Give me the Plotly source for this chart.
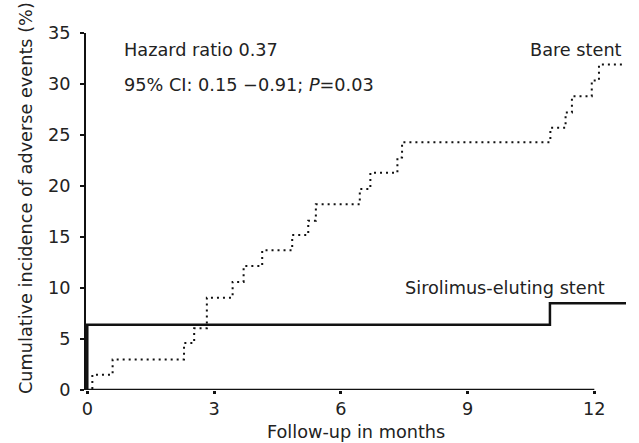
import plotly.graph_objects as go

# Data
bare_months = [0, 0.12, 0.6, 2.29, 2.53, 2.83, 3.44, 3.7, 4.14, 4.85, 5.23, 5.41,
               6.45, 6.7, 7.34, 7.45, 10.96, 11.32, 11.47, 11.94, 12.11, 12.72]
bare_pct = [0, 1.5, 3.0, 4.6, 6.05, 9.05, 10.6, 12.15, 13.7, 15.2, 16.6, 18.2,
            19.7, 21.3, 22.8, 24.3, 25.7, 27.2, 28.8, 30.35, 31.9, 31.9]

ses_months = [0, 0, 10.95, 12.75]
ses_pct = [0, 6.4, 8.5, 8.5]

x_ticks = [0, 3, 6, 9, 12]
y_ticks = [0, 5, 10, 15, 20, 25, 30, 35]

FONT = "DejaVu Sans, Liberation Sans, Arial, sans-serif"
TXT = "#222222"
FS = 17.7

fig = go.Figure()
fig.add_trace(go.Scatter(x=bare_months, y=bare_pct, mode="lines",
                         line=dict(shape="hv", color="#111111", width=2, dash="2px,4px"),
                         cliponaxis=False, showlegend=False))
fig.add_trace(go.Scatter(x=ses_months, y=ses_pct, mode="lines",
                         line=dict(shape="hv", color="#111111", width=2.5),
                         cliponaxis=False, showlegend=False))

# x axis line only spans 0..12
fig.add_shape(type="line", xref="x", yref="y", x0=0, x1=12, y0=0, y1=0,
              line=dict(color="#111111", width=2.5))

def ann(x, y, text, xanchor="left", angle=0):
    fig.add_annotation(x=x, y=y, xref="paper", yref="paper", xanchor=xanchor, yanchor="middle",
                       text=text, showarrow=False, textangle=angle,
                       font=dict(family=FONT, size=FS, color=TXT))

ann(0.0667, 0.952, "Hazard ratio 0.37")
ann(0.0667, 0.854, "95% CI: 0.15 \u22120.91; <i>P</i>=0.03")
ann(0.996, 0.952, "Bare stent", xanchor="right")
ann(0.965, 0.286, "Sirolimus-eluting stent", xanchor="right")
ann(0.5, -0.118, "Follow-up in months", xanchor="center")
ann(-0.111, 0.538, "Cumulative incidence of adverse events (%)", xanchor="center", angle=-90)

fig.update_layout(
    width=639, height=443,
    margin=dict(l=86, r=13, t=33, b=53),
    paper_bgcolor="white", plot_bgcolor="white",
    font=dict(family=FONT, size=FS, color=TXT),
    xaxis=dict(range=[-0.03, 12.75], tickvals=x_ticks, ticks="outside", ticklen=3, tickwidth=3,
               tickcolor="#111111", showline=False, showgrid=False, zeroline=False,
               automargin=False, tickfont=dict(size=FS)),
    yaxis=dict(range=[0, 35], tickvals=y_ticks, ticks="outside", ticklen=4, tickwidth=2,
               tickcolor="#111111", showline=True, linecolor="#111111", linewidth=2,
               showgrid=False, zeroline=False, automargin=False, ticklabelstandoff=6,
               tickfont=dict(size=FS)),
)

fig.write_html("out.html", config={"displayModeBar": False},
               post_script="document.body.style.margin='0';document.body.style.overflow='hidden';")
